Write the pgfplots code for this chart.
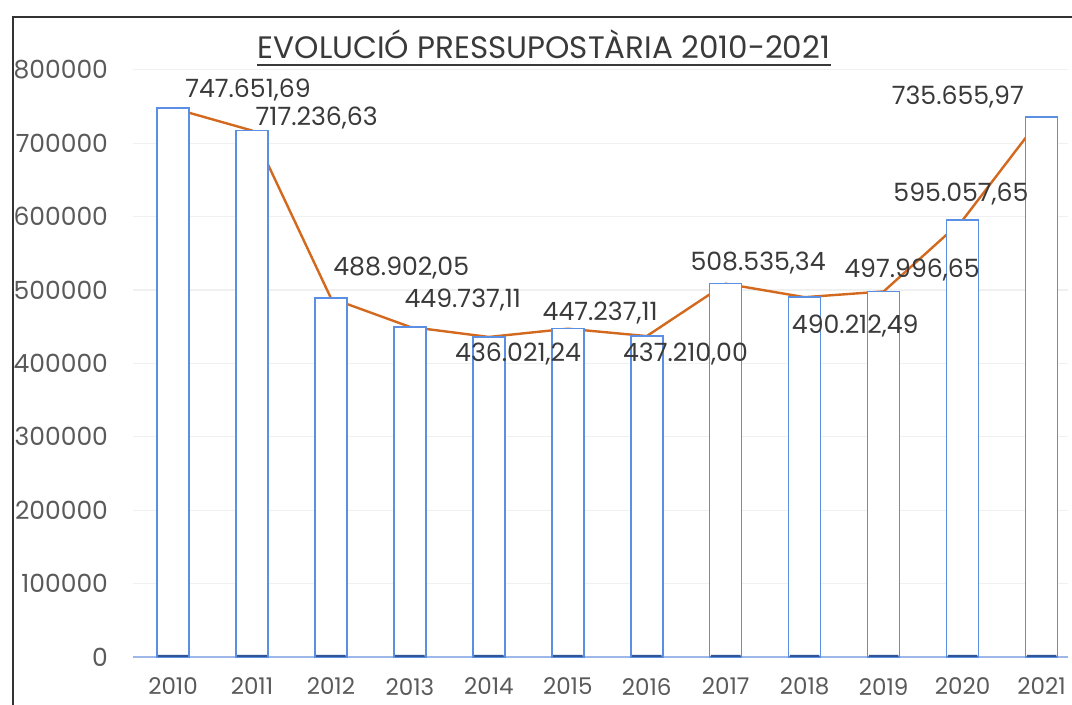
\documentclass[border=0pt]{standalone}
\usepackage{pgfplots}
\pgfplotsset{compat=1.18}
\usepackage{fontspec}
\setmainfont{Poppins}

\definecolor{barblue}{HTML}{5B8FE3}
\definecolor{basedark}{HTML}{2F5597}
\definecolor{baseline}{HTML}{9DB8E8}
\definecolor{lineorange}{HTML}{D2691E}
\definecolor{txt}{HTML}{3A3A3A}
\definecolor{ticktxt}{HTML}{5A5A5A}

% one table: year index, budget
\pgfplotstableread{
x  v
0  747651.69
1  717236.63
2  488902.05
3  449737.11
4  436021.24
5  447237.11
6  437210.00
7  508535.34
8  490212.49
9  497996.65
10 595057.65
11 735655.97
}\budget

\begin{document}
\begin{tikzpicture}
  % page = 1072x705 px at 0.5pt per px
  \useasboundingbox (0,0) rectangle (536pt,352.5pt);
  \draw[line width=1.4pt, black!80] (6.5pt,0) -- (6.5pt,344pt) -- (536pt,344pt);

  \node[anchor=base, inner sep=0pt, font=\fontsize{15.5}{17}\selectfont, text=txt] (T)
    at (272pt,323pt) {EVOLUCIÓ PRESSUPOSTÀRIA 2010-2021};
  \draw[line width=0.6pt, txt] (T.west |- 0,320pt) -- (T.east |- 0,320pt);

  \begin{axis}[
    at={(66.5pt,24pt)}, anchor=south west,
    scale only axis, width=467.3pt, height=293.6pt,
    xmin=-0.507, xmax=11.33, ymin=0, ymax=800000,
    xtick={0,...,11},
    xticklabels={2010,2011,2012,2013,2014,2015,2016,2017,2018,2019,2020,2021},
    ytick={0,100000,...,800000},
    yticklabels={0,100000,200000,300000,400000,500000,600000,700000,800000},
    scaled y ticks=false,
    major tick length=0pt,
    axis lines*=left,
    y axis line style={draw=none},
    x axis line style={draw=baseline, line width=0.8pt},
    ymajorgrids, grid style={draw=gray!12, line width=0.6pt},
    yticklabel style={font=\fontsize{12.5}{14}\selectfont, text=ticktxt, xshift=-9pt},
    xticklabel style={font=\fontsize{11.5}{14}\selectfont, text=ticktxt, yshift=-7pt},
    clip=false,
  ]
    \addplot[draw=lineorange, line width=1.2pt, mark=none] table[x=x, y=v] {\budget};
    \addplot[ybar, bar width=16pt, bar shift=0pt, draw=barblue, fill=white, line width=0.75pt]
      table[x=x, y=v] {\budget};
    \addplot[ybar, bar width=14.8pt, bar shift=0pt, draw=none, fill=basedark]
      coordinates {(0,3000)(1,3000)(2,3000)(3,3000)(4,3000)(5,3000)(6,3000)(7,3000)(8,3000)(9,3000)(10,3000)(11,3000)};

    \begin{scope}[every node/.style={font=\fontsize{12.6}{14}\selectfont, text=txt, inner sep=0pt}]
      \node at (axis cs:0.95,772480) {747.651,69};
      \node at (axis cs:1.82,734300) {717.236,63};
      \node at (axis cs:2.89,530000) {488.902,05};
      \node at (axis cs:3.67,486400) {449.737,11};
      \node at (axis cs:4.37,412800) {436.021,24};
      \node at (axis cs:5.41,469300) {447.237,11};
      \node at (axis cs:6.49,412800) {437.210,00};
      \node at (axis cs:7.41,536800) {508.535,34};
      \node at (axis cs:8.64,450300) {490.212,49};
      \node at (axis cs:9.36,527200) {497.996,65};
      \node at (axis cs:9.98,630800) {595.057,65};
      \node at (axis cs:9.94,762300) {735.655,97};
    \end{scope}
  \end{axis}
\end{tikzpicture}
\end{document}
